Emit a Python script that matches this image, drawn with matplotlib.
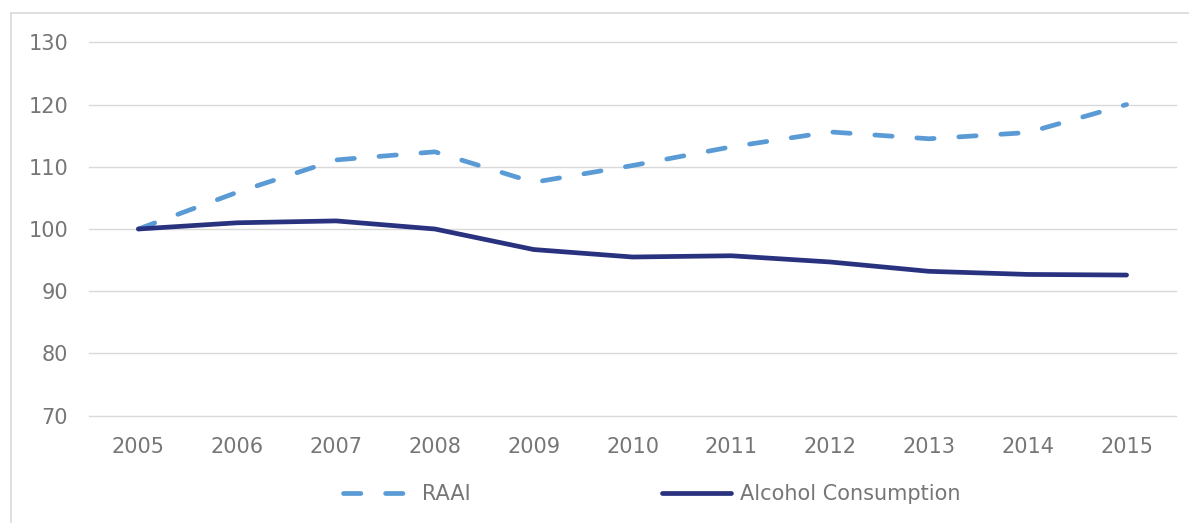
import matplotlib
matplotlib.use("Agg")
import matplotlib.pyplot as plt
from matplotlib.lines import Line2D

years = ["2005", "2006", "2007", "2008", "2009", "2010",
         "2011", "2012", "2013", "2014", "2015"]
raai = [100.0, 105.9, 111.1, 112.4, 107.5, 110.2, 113.2, 115.6, 114.5, 115.5, 120.0]
alcohol = [100.0, 101.0, 101.3, 100.0, 96.7, 95.5, 95.7, 94.7, 93.2, 92.7, 92.6]
yticks = [70, 80, 90, 100, 110, 120, 130]

plt.rcParams['font.family'] = ['DejaVu Sans']
plt.rcParams['lines.scale_dashes'] = False

TEXT = '#767676'
GRID = '#D9D9D9'
C_RAAI = '#5B9BD5'
C_ALC = '#29327F'

W, H = 1189, 523
fig = plt.figure(figsize=(W / 100, H / 100), dpi=100)
ax = fig.add_axes([89 / W, 1 - 415.7 / H, 1087 / W, (415.7 - 42.3) / H])

x = list(range(len(years)))
ax.plot(x, raai, color=C_RAAI, lw=3.4, linestyle=(0, (12.5, 17.8)),
        dash_capstyle='round', solid_joinstyle='round', label='RAAI', zorder=3)
ax.plot(x, alcohol, color=C_ALC, lw=3.4, solid_capstyle='round',
        solid_joinstyle='round', label='Alcohol Consumption', zorder=3)

ax.set_xlim(-0.5, len(years) - 0.5)
ax.set_ylim(70, 130)
ax.set_xticks(x)
ax.set_xticklabels(years)
ax.set_yticks(yticks)
ax.set_yticklabels([str(v) for v in yticks])
ax.tick_params(axis='both', length=0, labelsize=15, labelcolor=TEXT)
ax.tick_params(axis='y', pad=15)
ax.tick_params(axis='x', pad=15)
ax.grid(axis='y', color=GRID, lw=1.0)
ax.grid(axis='x', visible=False)
for gl in ax.get_ygridlines():
    gl.set_clip_on(False)
ax.set_axisbelow(True)
for s in ax.spines.values():
    s.set_visible(False)

leg = ax.legend(loc='center', bbox_to_anchor=(652 / W, 1 - 494 / H),
                bbox_transform=fig.transFigure, ncol=2, frameon=False,
                fontsize=15, handlelength=3.3, handletextpad=0.45,
                columnspacing=9.2, borderpad=0)
for t in leg.get_texts():
    t.set_color(TEXT)

# outer chart-area border (left and top visible)
fig.add_artist(Line2D([11 / W, 11 / W], [0, 1 - 13 / H], transform=fig.transFigure,
                      color=GRID, lw=1.2))
fig.add_artist(Line2D([11 / W, 1], [1 - 13 / H, 1 - 13 / H], transform=fig.transFigure,
                      color=GRID, lw=1.2))

fig.savefig('out.png', dpi=100)
